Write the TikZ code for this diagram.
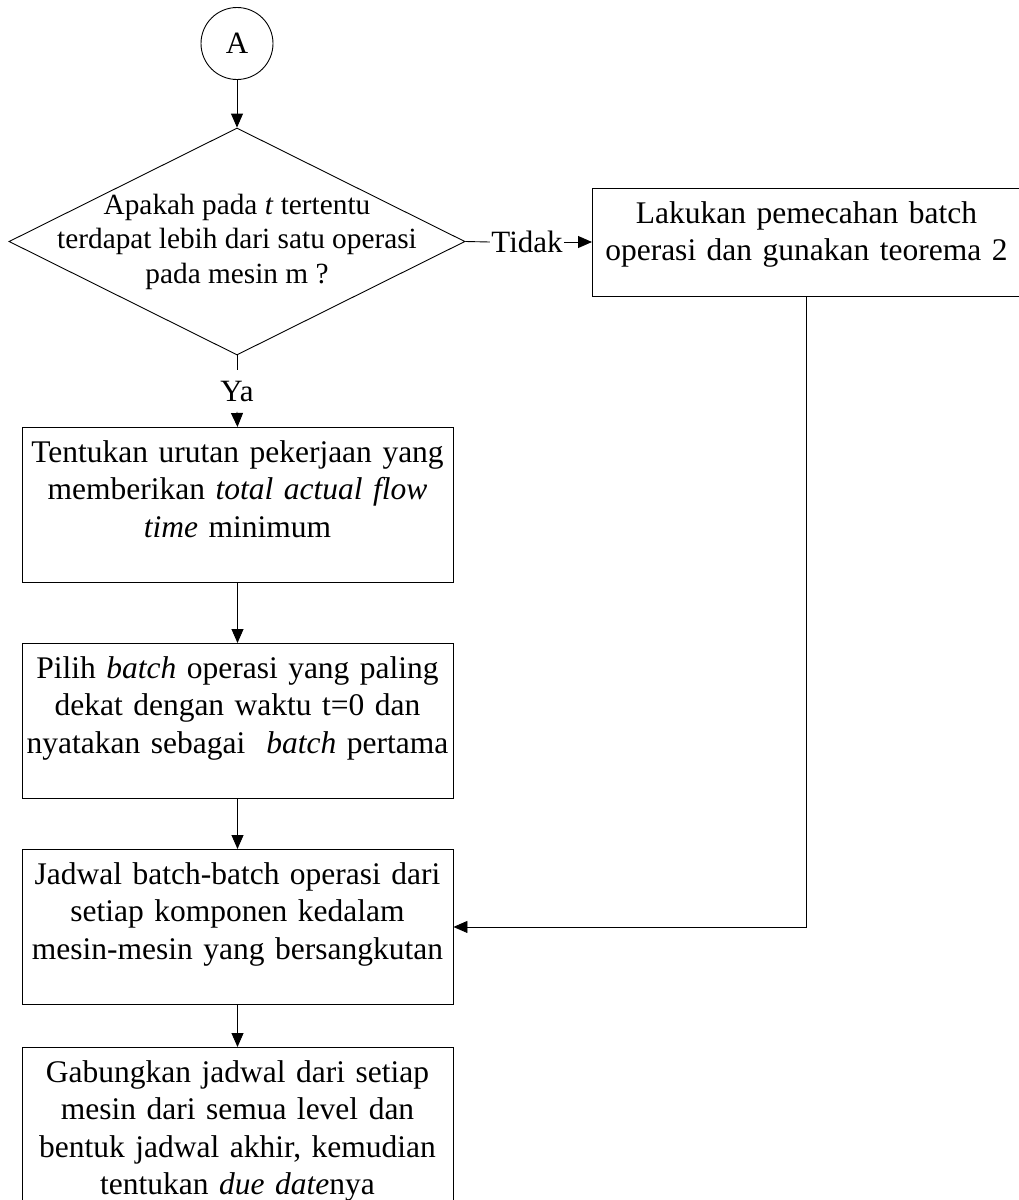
\documentclass[tikz,border=0pt]{standalone}
\usepackage{fontspec}
\setmainfont{Liberation Serif}
\usetikzlibrary{shapes.geometric,arrows.meta}
\begin{document}
\begin{tikzpicture}[x=1pt,y=-1pt,line width=0.9pt,
  >={Triangle[length=14pt,width=12pt]},
  box/.style={draw, inner sep=0pt, minimum width=431pt, text width=425pt, align=center,
    font=\fontsize{31.5}{37.5}\selectfont, text height=35pt, text depth=120pt},
  lbl/.style={font=\fontsize{31}{36}\selectfont}]
\useasboundingbox (0,0) rectangle (1019,1200);
\node[draw, circle, minimum size=72pt, inner sep=0pt, lbl] (a) at (237,43.5) {A};
\node[draw, diamond, minimum width=456pt, minimum height=227pt, inner sep=0pt] (q) at (237,241.5) {};
\node[align=center, font=\fontsize{29.3}{34.5}\selectfont] (qt) at (q) {Apakah pada \textit{t} tertentu\\terdapat lebih dari satu operasi\\pada mesin m ?};
\node[lbl, anchor=base, inner xsep=0pt, inner ysep=10pt] (ya) at (237,401) {Ya};
\node[lbl, inner sep=1pt] (td) at (527,242) {Tidak};
\node[box, anchor=west, minimum width=428pt, text width=420pt, text depth=73pt] (r) at (592,242) {Lakukan pemecahan batch\\operasi dan gunakan teorema 2};
\node[box, anchor=north] (b1) at (237.5,427) {Tentukan urutan pekerjaan yang\\memberikan \textit{total actual flow}\\\textit{time} minimum};
\node[box, anchor=north] (b2) at (237.5,643) {Pilih \textit{batch} operasi yang paling\\dekat dengan waktu t=0 dan\\nyatakan sebagai \ \textit{batch} pertama};
\node[box, anchor=north] (b3) at (237.5,849) {Jadwal batch-batch operasi dari\\setiap komponen kedalam\\mesin-mesin yang bersangkutan};
\node[box, anchor=north, text depth=200pt] (b4) at (237.5,1047) {Gabungkan jadwal dari setiap\\mesin dari semua level dan\\bentuk jadwal akhir, kemudian\\tentukan \textit{due date}nya};
\draw[->] (a.south) -- (q.north);
\draw (q.south) -- (ya.north);
\draw[->] (ya.south) -- (b1.north);
\draw[->] (b1.south) -- (b2.north);
\draw[->] (b2.south) -- (b3.north);
\draw[->] (b3.south) -- (b4.north);
\draw (q.east) -- (td.west);
\draw[->] (td.east) -- (r.west);
\draw[->] (r.south) |- (b3.east);
\end{tikzpicture}
\end{document}
